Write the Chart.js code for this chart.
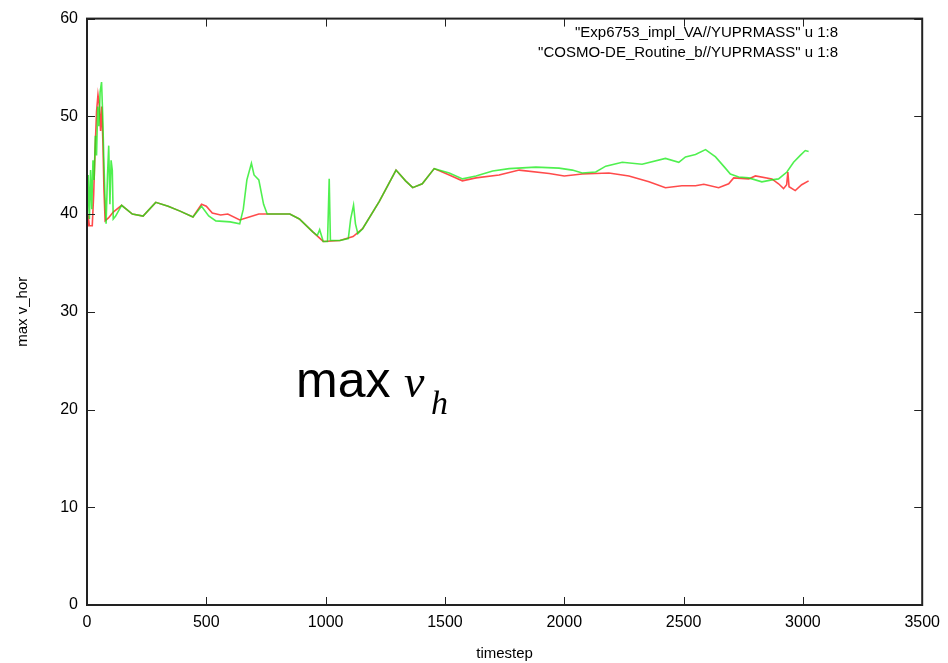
<!DOCTYPE html>
<html>
<head>
<meta charset="utf-8">
<script src="https://cdn.jsdelivr.net/npm/chart.js@4/dist/chart.umd.min.js"></script>
<style>
  body { margin: 0; background: #fff; }
  #contenedor { width: 948px; height: 663px; }
</style>
</head>
<body>
<div id="contenedor"><canvas id="chart-linea"></canvas></div>
<script>
// datos
const etiquetas = [
  '"Exp6753_impl_VA//YUPRMASS" u 1:8',
  '"COSMO-DE_Routine_b//YUPRMASS" u 1:8',
];
const ticksX = [0, 500, 1000, 1500, 2000, 2500, 3000, 3500];
const ticksY = [0, 10, 20, 30, 40, 50, 60];

const pasosRojo = [0, 4, 10, 22, 28, 33, 40, 46, 52, 57, 62, 67, 71, 76, 90, 110,
  145, 190, 235, 288, 340, 390, 444, 480, 500, 525, 560, 590, 640, 680, 720, 800,
  850, 890, 945, 990, 1060, 1115, 1155, 1225, 1295, 1335, 1365, 1405, 1455, 1518,
  1573, 1630, 1727, 1811, 1937, 2000, 2075, 2187, 2271, 2355, 2424, 2493, 2550,
  2585, 2647, 2689, 2710, 2773, 2801, 2870, 2898, 2919, 2932, 2937, 2942, 2968,
  2995, 3024];
const valoresRojo = [38.8, 40.0, 38.8, 38.8, 42.0, 46.0, 50.5, 52.2, 51.0, 48.5,
  51.0, 47.0, 42.5, 39.3, 39.6, 40.2, 40.9, 40.0, 39.8, 41.2, 40.8, 40.3, 39.7,
  41.0, 40.8, 40.1, 39.9, 40.0, 39.4, 39.7, 40.0, 40.0, 40.0, 39.5, 38.2, 37.2,
  37.3, 37.7, 38.5, 41.3, 44.5, 43.4, 42.7, 43.1, 44.65, 44.0, 43.4, 43.7, 44.0,
  44.5, 44.15, 43.9, 44.1, 44.2, 43.9, 43.3, 42.7, 42.9, 42.9, 43.05, 42.7, 43.1,
  43.7, 43.6, 43.9, 43.6, 43.1, 42.6, 43.0, 44.3, 42.8, 42.4, 43.0, 43.4];

const pasosVerde = [0, 5, 10, 15, 20, 25, 30, 35, 40, 45, 50, 55, 61, 66, 70, 75,
  80, 86, 91, 96, 101, 106, 110, 120, 145, 190, 235, 288, 340, 390, 444, 480, 510,
  540, 600, 640, 655, 670, 689, 700, 720, 740, 755, 800, 850, 890, 945, 965, 975,
  990, 1008, 1015, 1020, 1060, 1095, 1105, 1117, 1125, 1135, 1155, 1225, 1295,
  1335, 1365, 1405, 1455, 1518, 1574, 1630, 1700, 1769, 1881, 1978, 2034, 2075,
  2132, 2174, 2243, 2326, 2424, 2480, 2508, 2550, 2592, 2634, 2675, 2696, 2731,
  2773, 2828, 2870, 2898, 2933, 2961, 2989, 3010, 3024];
const valoresVerde = [39.0, 44.0, 39.5, 44.5, 40.5, 45.5, 43.5, 48.0, 46.0, 51.0,
  49.0, 52.5, 53.5, 50.0, 46.0, 42.0, 39.0, 44.0, 47.0, 41.0, 45.5, 44.5, 39.5,
  39.8, 40.9, 40.0, 39.8, 41.2, 40.8, 40.3, 39.7, 40.8, 39.8, 39.3, 39.2, 39.0,
  40.5, 43.5, 45.2, 44.0, 43.5, 41.0, 40.0, 40.0, 40.0, 39.5, 38.2, 37.8, 38.4,
  37.2, 37.2, 43.6, 37.3, 37.3, 37.5, 39.5, 40.9, 39.0, 38.0, 38.5, 41.3, 44.5,
  43.4, 42.7, 43.1, 44.65, 44.2, 43.6, 43.9, 44.4, 44.65, 44.8, 44.7, 44.5, 44.2,
  44.3, 44.9, 45.3, 45.1, 45.7, 45.3, 45.85, 46.1, 46.6, 45.85, 44.7, 44.1, 43.8,
  43.7, 43.3, 43.5, 43.6, 44.3, 45.3, 46.0, 46.5, 46.4];

const aPuntos = (pasos, valores) => pasos.map((p, i) => ({ x: p, y: valores[i] }));

const fuente = "'Liberation Sans', Arial, sans-serif";

// marco, ticks hacia dentro, leyenda y rotulo
const marcoGnuplot = {
  id: "marcoGnuplot",
  afterDraw(chart) {
    const ctx = chart.ctx;
    const a = chart.chartArea;
    const sx = chart.scales.x;
    const sy = chart.scales.y;
    ctx.save();
    ctx.strokeStyle = "#222";
    ctx.lineWidth = 2;
    ctx.strokeRect(a.left, a.top, a.right - a.left, a.bottom - a.top);
    ctx.lineWidth = 1;
    ctx.beginPath();
    ticksX.forEach((t) => {
      const px = Math.round(sx.getPixelForValue(t)) + 0.5;
      ctx.moveTo(px, a.bottom); ctx.lineTo(px, a.bottom - 8);
      ctx.moveTo(px, a.top); ctx.lineTo(px, a.top + 8);
    });
    ticksY.forEach((t) => {
      const py = Math.round(sy.getPixelForValue(t)) + 0.5;
      ctx.moveTo(a.left, py); ctx.lineTo(a.left + 8, py);
      ctx.moveTo(a.right, py); ctx.lineTo(a.right - 8, py);
    });
    ctx.stroke();

    ctx.fillStyle = "#000";
    ctx.font = "15px " + fuente;
    ctx.textAlign = "right";
    ctx.textBaseline = "middle";
    ctx.fillText(etiquetas[0], 838, 33);
    ctx.fillText(etiquetas[1], 838, 53);

    ctx.textAlign = "left";
    ctx.textBaseline = "alphabetic";
    ctx.font = "50px " + fuente;
    ctx.fillText("max", 296, 397);
    ctx.font = "italic 46px 'Liberation Serif', 'DejaVu Serif', serif";
    ctx.fillText("v", 404, 397);
    ctx.font = "italic 34px 'Liberation Serif', 'DejaVu Serif', serif";
    ctx.fillText("h", 431, 414);
    ctx.restore();
  },
};

const contenedorChart = document.querySelector("#chart-linea").getContext("2d");

const configuracion = {
  type: "line",
  data: {
    datasets: [
      {
        label: etiquetas[0],
        data: aPuntos(pasosRojo, valoresRojo),
        borderColor: "rgba(255, 30, 30, 0.8)",
        borderWidth: 1.6,
        pointRadius: 0,
        tension: 0,
        order: 2,
      },
      {
        label: etiquetas[1],
        data: aPuntos(pasosVerde, valoresVerde),
        borderColor: "rgba(20, 235, 20, 0.75)",
        borderWidth: 1.6,
        pointRadius: 0,
        tension: 0,
        order: 1,
      },
    ],
  },
  options: {
    responsive: true,
    maintainAspectRatio: false,
    animation: false,
    layout: { padding: { top: 16, right: 24, left: 0, bottom: 0 } },
    plugins: {
      legend: { display: false },
      tooltip: { enabled: false },
    },
    scales: {
      x: {
        type: "linear",
        min: 0,
        max: 3500,
        afterBuildTicks: (s) => { s.ticks = ticksX.map((v) => ({ value: v })); },
        afterFit: (s) => { s.height = 58; },
        grid: { display: false, drawTicks: false },
        border: { display: false },
        ticks: {
          color: "#000",
          padding: 8,
          font: { family: fuente, size: 16 },
          callback: (v) => String(v),
        },
        title: {
          display: true,
          text: "timestep",
          color: "#000",
          padding: { top: 6, bottom: 0 },
          font: { family: fuente, size: 15 },
        },
      },
      y: {
        min: 0,
        max: 60,
        afterBuildTicks: (s) => { s.ticks = ticksY.map((v) => ({ value: v })); },
        afterFit: (s) => { s.width = 87; },
        grid: { display: false, drawTicks: false },
        border: { display: false },
        ticks: {
          color: "#000",
          padding: 9,
          font: { family: fuente, size: 16 },
          callback: (v) => String(v),
        },
        title: {
          display: true,
          text: "max v_hor",
          color: "#000",
          padding: { top: 14, bottom: 0 },
          font: { family: fuente, size: 15 },
        },
      },
    },
  },
  plugins: [marcoGnuplot],
};

const chartLinea = new Chart(contenedorChart, configuracion);
</script>
</body>
</html>
